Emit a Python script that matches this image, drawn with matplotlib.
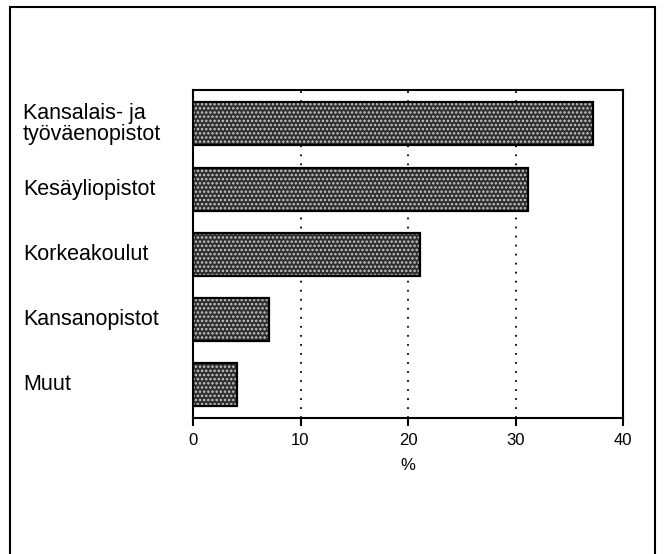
import numpy as np
import matplotlib.pyplot as plt
import matplotlib.transforms as mtransforms
from matplotlib.patches import Rectangle

# Data
categories = ['Kansalais- ja\ntyöväenopistot', 'Kesäyliopistot', 'Korkeakoulut',
              'Kansanopistot', 'Muut']
values = [37.2, 31.2, 21.1, 7.1, 4.1]
xticks = [0, 10, 20, 30, 40]

plt.rcParams['font.family'] = ['Liberation Sans', 'DejaVu Sans']
plt.rcParams['hatch.linewidth'] = 1.2

fig = plt.figure(figsize=(6.64, 5.54), dpi=100)
ax = fig.add_axes([193 / 664, 1 - 418 / 554, 430 / 664, 328 / 554])

# outer frame around the whole figure
fig.patches.append(Rectangle((10 / 664, -0.02), 645 / 664, 1.02 - 7 / 554,
                             transform=fig.transFigure, fill=False,
                             edgecolor='black', linewidth=1.5))

y = np.arange(len(categories))
# dark fill with light dot pattern, then a black outline on top
ax.barh(y, values, height=0.66, color='#2e2e2e', edgecolor='#c8c8c8',
        hatch='....', linewidth=0, zorder=3)
ax.barh(y, values, height=0.66, fill=False, edgecolor='black',
        linewidth=1.6, zorder=4)

ax.set_xlim(0, 40)
ax.set_ylim(4.51, -0.52)
ax.set_xticks(xticks)
ax.set_xticklabels([str(t) for t in xticks], fontsize=12)
ax.set_yticks([])
for t in [10, 20, 30]:
    ax.axvline(t, color='black', linestyle=(0, (1, 4)), linewidth=1.3, zorder=1)
for s in ax.spines.values():
    s.set_linewidth(1.5)
ax.tick_params(axis='x', direction='out', length=6, width=1.5, pad=5)
ax.set_xlabel('%', fontsize=12, labelpad=7)

# category labels, left aligned near the frame
trans = mtransforms.blended_transform_factory(fig.transFigure, ax.transData)
for yi, name in zip(y, categories):
    ax.text(23 / 664, yi, name, transform=trans, fontsize=15.5,
            ha='left', va='center', linespacing=1.0)

fig.savefig('out.png', dpi=100)
